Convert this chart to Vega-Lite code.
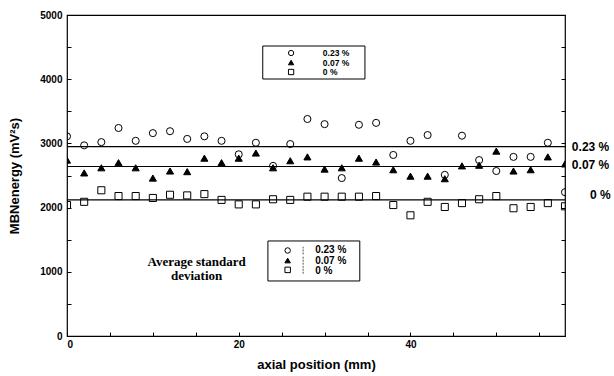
{
  "$schema": "https://vega.github.io/schema/vega-lite/v6.json",
  "width": 498,
  "height": 321,
  "autosize": "none",
  "padding": {"left": 67, "top": 15, "right": 49, "bottom": 40},
  "background": "white",
  "config": {
    "view": {"stroke": "black", "strokeWidth": 1.2},
    "font": "Liberation Sans",
    "axis": {
      "domain": false,
      "grid": false,
      "tickColor": "black",
      "tickSize": -4,
      "labelFont": "Liberation Sans",
      "labelFontWeight": "bold",
      "labelFontSize": 10,
      "labelColor": "black",
      "titleFont": "Liberation Sans",
      "titleFontWeight": "bold",
      "titleFontSize": 13,
      "titleColor": "black"
    }
  },
  "datasets": {
    "pts": [
      {"x": 0, "s": "0.23 %", "v": 3110}, {"x": 2, "s": "0.23 %", "v": 2970}, {"x": 4, "s": "0.23 %", "v": 3020}, {"x": 6, "s": "0.23 %", "v": 3240}, {"x": 8, "s": "0.23 %", "v": 3040}, {"x": 10, "s": "0.23 %", "v": 3160}, {"x": 12, "s": "0.23 %", "v": 3190}, {"x": 14, "s": "0.23 %", "v": 3070}, {"x": 16, "s": "0.23 %", "v": 3110}, {"x": 18, "s": "0.23 %", "v": 3040}, {"x": 20, "s": "0.23 %", "v": 2830}, {"x": 22, "s": "0.23 %", "v": 3010}, {"x": 24, "s": "0.23 %", "v": 2650}, {"x": 26, "s": "0.23 %", "v": 2990}, {"x": 28, "s": "0.23 %", "v": 3380}, {"x": 30, "s": "0.23 %", "v": 3300}, {"x": 32, "s": "0.23 %", "v": 2460}, {"x": 34, "s": "0.23 %", "v": 3290}, {"x": 36, "s": "0.23 %", "v": 3320}, {"x": 38, "s": "0.23 %", "v": 2820}, {"x": 40, "s": "0.23 %", "v": 3040}, {"x": 42, "s": "0.23 %", "v": 3130}, {"x": 44, "s": "0.23 %", "v": 2510}, {"x": 46, "s": "0.23 %", "v": 3120}, {"x": 48, "s": "0.23 %", "v": 2740}, {"x": 50, "s": "0.23 %", "v": 2570}, {"x": 52, "s": "0.23 %", "v": 2790}, {"x": 54, "s": "0.23 %", "v": 2790}, {"x": 56, "s": "0.23 %", "v": 3010}, {"x": 58, "s": "0.23 %", "v": 2240},
      {"x": 0, "s": "0.07 %", "v": 2740}, {"x": 2, "s": "0.07 %", "v": 2540}, {"x": 4, "s": "0.07 %", "v": 2620}, {"x": 6, "s": "0.07 %", "v": 2700}, {"x": 8, "s": "0.07 %", "v": 2620}, {"x": 10, "s": "0.07 %", "v": 2460}, {"x": 12, "s": "0.07 %", "v": 2570}, {"x": 14, "s": "0.07 %", "v": 2560}, {"x": 16, "s": "0.07 %", "v": 2770}, {"x": 18, "s": "0.07 %", "v": 2700}, {"x": 20, "s": "0.07 %", "v": 2770}, {"x": 22, "s": "0.07 %", "v": 2850}, {"x": 24, "s": "0.07 %", "v": 2620}, {"x": 26, "s": "0.07 %", "v": 2730}, {"x": 28, "s": "0.07 %", "v": 2790}, {"x": 30, "s": "0.07 %", "v": 2600}, {"x": 32, "s": "0.07 %", "v": 2620}, {"x": 34, "s": "0.07 %", "v": 2770}, {"x": 36, "s": "0.07 %", "v": 2710}, {"x": 38, "s": "0.07 %", "v": 2590}, {"x": 40, "s": "0.07 %", "v": 2490}, {"x": 42, "s": "0.07 %", "v": 2490}, {"x": 44, "s": "0.07 %", "v": 2450}, {"x": 46, "s": "0.07 %", "v": 2650}, {"x": 48, "s": "0.07 %", "v": 2660}, {"x": 50, "s": "0.07 %", "v": 2880}, {"x": 52, "s": "0.07 %", "v": 2570}, {"x": 54, "s": "0.07 %", "v": 2590}, {"x": 56, "s": "0.07 %", "v": 2790}, {"x": 58, "s": "0.07 %", "v": 2680},
      {"x": 0, "s": "0 %", "v": 2040}, {"x": 2, "s": "0 %", "v": 2090}, {"x": 4, "s": "0 %", "v": 2270}, {"x": 6, "s": "0 %", "v": 2180}, {"x": 8, "s": "0 %", "v": 2180}, {"x": 10, "s": "0 %", "v": 2150}, {"x": 12, "s": "0 %", "v": 2200}, {"x": 14, "s": "0 %", "v": 2190}, {"x": 16, "s": "0 %", "v": 2210}, {"x": 18, "s": "0 %", "v": 2120}, {"x": 20, "s": "0 %", "v": 2050}, {"x": 22, "s": "0 %", "v": 2050}, {"x": 24, "s": "0 %", "v": 2130}, {"x": 26, "s": "0 %", "v": 2120}, {"x": 28, "s": "0 %", "v": 2170}, {"x": 30, "s": "0 %", "v": 2170}, {"x": 32, "s": "0 %", "v": 2170}, {"x": 34, "s": "0 %", "v": 2170}, {"x": 36, "s": "0 %", "v": 2180}, {"x": 38, "s": "0 %", "v": 2040}, {"x": 40, "s": "0 %", "v": 1880}, {"x": 42, "s": "0 %", "v": 2090}, {"x": 44, "s": "0 %", "v": 2010}, {"x": 46, "s": "0 %", "v": 2070}, {"x": 48, "s": "0 %", "v": 2130}, {"x": 50, "s": "0 %", "v": 2180}, {"x": 52, "s": "0 %", "v": 1990}, {"x": 54, "s": "0 %", "v": 2010}, {"x": 56, "s": "0 %", "v": 2070}, {"x": 58, "s": "0 %", "v": 2020}
    ],
    "means": [
      {"s": "0.23 %", "v": 2950, "lx": 58.8, "ly": 2950},
      {"s": "0.07 %", "v": 2640, "lx": 58.8, "ly": 2660},
      {"s": "0 %", "v": 2120, "lx": 60.9, "ly": 2200}
    ],
    "boxes": [
      {"x1": 22.8, "x2": 34.7, "y1": 4517, "y2": 4003},
      {"x1": 23.4, "x2": 34.1, "y1": 1480, "y2": 857}
    ],
    "leg1": [
      {"s": "0.23 %", "sx": 26.1, "tx": 29.8, "v": 4408},
      {"s": "0.07 %", "sx": 26.1, "tx": 29.8, "v": 4260},
      {"s": "0 %", "sx": 26.1, "tx": 29.8, "v": 4112}
    ],
    "leg2": [
      {"s": "0.23 %", "sx": 25.7, "ex": 27.5, "tx": 28.9, "v": 1332, "tv": 1332, "e1": 1270, "e2": 1390},
      {"s": "0.07 %", "sx": 25.7, "ex": 27.5, "tx": 28.9, "v": 1176, "tv": 1176, "e1": 1110, "e2": 1240},
      {"s": "0 %", "sx": 25.7, "ex": 27.5, "tx": 28.9, "v": 1030, "tv": 1020, "e1": 970, "e2": 1090}
    ],
    "note": [
      {"x": 15.1, "v": 1160, "t": "Average standard\ndeviation"}
    ]
  },
  "resolve": {"axis": {"y": "independent", "x": "independent"}},
  "layer": [
    {
      "data": {"name": "means"},
      "mark": {"type": "rule", "color": "black", "strokeWidth": 1.2},
      "encoding": {
        "y": {"field": "v", "type": "quantitative", "scale": {"domain": [0, 5000], "nice": false},
          "axis": {"orient": "right", "labels": false, "title": null, "tickSize": -4, "values": [0, 500, 1000, 1500, 2000, 2500, 3000, 3500, 4000, 4500, 5000]}}
      }
    },
    {
      "data": {"name": "pts"},
      "mark": {"type": "point", "size": 50, "strokeWidth": 1, "opacity": 1, "clip": true},
      "encoding": {
        "x": {"field": "x", "type": "quantitative", "scale": {"domain": [0, 58], "nice": false},
          "axis": {"title": "axial position (mm)", "values": [0, 5, 10, 15, 20, 25, 30, 35, 40, 45, 50, 55],
            "labelExpr": "datum.value % 20 === 0 ? datum.label : ''", "labelPadding": 7, "titlePadding": 9}},
        "y": {"field": "v", "type": "quantitative", "scale": {"domain": [0, 5000], "nice": false},
          "axis": {"title": "MBNenergy (mV²s)", "values": [0, 500, 1000, 1500, 2000, 2500, 3000, 3500, 4000, 4500, 5000],
            "labelExpr": "datum.value % 1000 === 0 ? datum.label : ''", "format": "d", "labelPadding": 9, "titlePadding": 18}},
        "shape": {"field": "s", "type": "nominal", "scale": {"domain": ["0.23 %", "0.07 %", "0 %"], "range": ["circle", "triangle-up", "square"]}, "legend": null},
        "fill": {"field": "s", "type": "nominal", "scale": {"domain": ["0.23 %", "0.07 %", "0 %"], "range": ["transparent", "black", "transparent"]}, "legend": null},
        "stroke": {"value": "black"}
      }
    },
    {
      "data": {"name": "means"},
      "mark": {"type": "text", "align": "left", "baseline": "middle", "fontSize": 12, "fontWeight": "bold", "font": "Liberation Sans", "color": "black"},
      "encoding": {
        "x": {"field": "lx", "type": "quantitative", "axis": null},
        "y": {"field": "ly", "type": "quantitative", "axis": null},
        "text": {"field": "s"}
      }
    },
    {
      "data": {"name": "boxes"},
      "mark": {"type": "rect", "fill": "white", "fillOpacity": 0, "stroke": "black", "strokeWidth": 1},
      "encoding": {
        "x": {"field": "x1", "type": "quantitative", "axis": null},
        "x2": {"field": "x2"},
        "y": {"field": "y1", "type": "quantitative", "axis": null},
        "y2": {"field": "y2"}
      }
    },
    {
      "data": {"name": "leg1"},
      "mark": {"type": "point", "size": 28, "strokeWidth": 1, "opacity": 1},
      "encoding": {
        "x": {"field": "sx", "type": "quantitative", "axis": null},
        "y": {"field": "v", "type": "quantitative", "axis": null},
        "shape": {"field": "s", "type": "nominal", "legend": null},
        "fill": {"field": "s", "type": "nominal", "legend": null},
        "stroke": {"value": "black"}
      }
    },
    {
      "data": {"name": "leg1"},
      "mark": {"type": "text", "align": "left", "baseline": "middle", "fontSize": 8.5, "fontWeight": "bold", "font": "Liberation Sans", "color": "black"},
      "encoding": {
        "x": {"field": "tx", "type": "quantitative", "axis": null},
        "y": {"field": "v", "type": "quantitative", "axis": null},
        "text": {"field": "s"}
      }
    },
    {
      "data": {"name": "leg2"},
      "mark": {"type": "point", "size": 30, "strokeWidth": 1, "opacity": 1},
      "encoding": {
        "x": {"field": "sx", "type": "quantitative", "axis": null},
        "y": {"field": "v", "type": "quantitative", "axis": null},
        "shape": {"field": "s", "type": "nominal", "legend": null},
        "fill": {"field": "s", "type": "nominal", "legend": null},
        "stroke": {"value": "black"}
      }
    },
    {
      "data": {"name": "leg2"},
      "mark": {"type": "rule", "color": "#555555", "strokeWidth": 1, "strokeDash": [2, 1]},
      "encoding": {
        "x": {"field": "ex", "type": "quantitative", "axis": null},
        "y": {"field": "e1", "type": "quantitative", "axis": null},
        "y2": {"field": "e2"}
      }
    },
    {
      "data": {"name": "leg2"},
      "mark": {"type": "text", "align": "left", "baseline": "middle", "fontSize": 10, "fontWeight": "bold", "font": "Liberation Sans", "color": "black"},
      "encoding": {
        "x": {"field": "tx", "type": "quantitative", "axis": null},
        "y": {"field": "tv", "type": "quantitative", "axis": null},
        "text": {"field": "s"}
      }
    },
    {
      "data": {"name": "note"},
      "mark": {"type": "text", "align": "center", "baseline": "middle", "fontSize": 13, "fontWeight": "bold", "font": "Liberation Serif", "color": "black", "lineBreak": "\n", "lineHeight": 14},
      "encoding": {
        "x": {"field": "x", "type": "quantitative", "axis": null},
        "y": {"field": "v", "type": "quantitative", "axis": null},
        "text": {"field": "t"}
      }
    }
  ]
}
